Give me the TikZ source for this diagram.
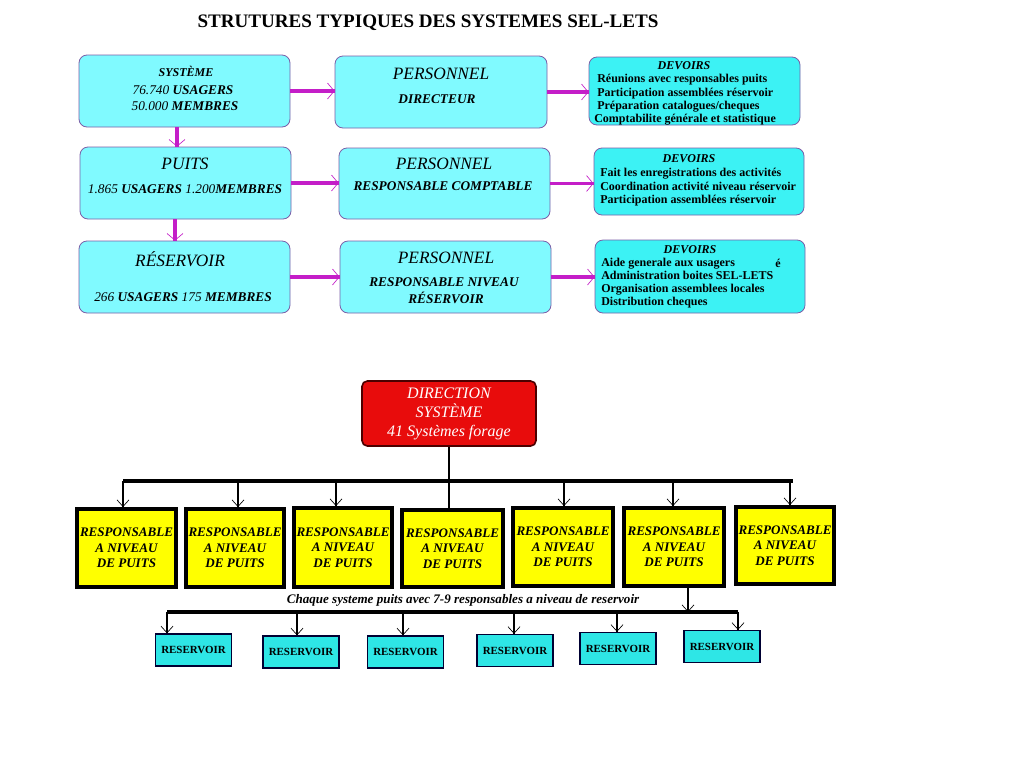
\documentclass[tikz,border=0pt]{standalone}
\usepackage{fontspec}
\setmainfont{Liberation Serif}
\usetikzlibrary{arrows.meta}
\definecolor{lcyan}{HTML}{80FAFF}
\definecolor{dcyan}{HTML}{3CF2F4}
\definecolor{rcyan}{HTML}{2EE6E6}
\definecolor{boxedge}{HTML}{7A5FA8}
\definecolor{mag}{HTML}{C41EC8}
\definecolor{dred}{HTML}{E80C0C}
\definecolor{yel}{HTML}{FFFF00}
\tikzset{
  cbox/.style={draw=boxedge, fill=lcyan, rounded corners=6pt, line width=0.6pt, inner sep=0pt},
  dbox/.style={cbox, fill=dcyan},
  marrow/.style={draw=mag, line width=0.5pt, -{Straight Barb[length=5pt,width=12pt]},
     preaction={draw=mag, line width=2.4pt, -}},
  tarrow/.style={draw=black, line width=0.5pt, -{Straight Barb[length=5pt,width=9pt]},
     preaction={draw=black, line width=2.2pt, -}},
  tline/.style={draw=black, line width=2.8pt},
  ybox/.style={draw=black, fill=yel, line width=3pt, align=center, inner sep=0pt,
     font=\fontsize{9.8}{11.6}\selectfont\bfseries\itshape},
  rbox/.style={draw=black!80!blue, fill=rcyan, line width=1pt, inner sep=0pt,
     minimum width=57pt, minimum height=24pt, font=\fontsize{8.2}{9}\selectfont\bfseries},
  big/.style={font=\fontsize{13}{15}\selectfont\itshape},
  mid/.style={font=\fontsize{10}{12}\selectfont\bfseries\itshape},
  dev/.style={font=\fontsize{9}{10}\selectfont\bfseries\itshape},
  dline/.style={anchor=base west, inner sep=0pt, font=\fontsize{9}{10}\selectfont\bfseries},
  num/.style={font=\fontsize{10}{12}\selectfont},
}
\begin{document}
\begin{tikzpicture}[x=0.75pt, y=-0.75pt]
\useasboundingbox[fill=white] (0,0) rectangle (1024,768);
% title
\node[font=\fontsize{14.3}{16}\selectfont\bfseries] (title) at (428,23) {STRUTURES TYPIQUES DES SYSTEMES SEL-LETS};
% top boxes
\node[cbox, minimum width=158.25pt, minimum height=54pt] (sys) at (184.5,91) {};
\node[cbox, minimum width=159pt, minimum height=54pt] (p1) at (441,92) {};
\node[dbox, minimum width=158.25pt, minimum height=51pt] (d1) at (694.5,91) {};
\node[cbox, minimum width=158.25pt, minimum height=54pt] (puits) at (185.5,183) {};
\node[cbox, minimum width=158.25pt, minimum height=53.25pt] (p2) at (444.5,183.5) {};
\node[dbox, minimum width=157.5pt, minimum height=50.25pt] (d2) at (699,181.5) {};
\node[cbox, minimum width=158.25pt, minimum height=54pt] (res) at (184.5,277) {};
\node[cbox, minimum width=158.25pt, minimum height=54pt] (p3) at (445.5,277) {};
\node[dbox, minimum width=157.5pt, minimum height=54.75pt] (d3) at (700,276.5) {};
% texts row 1
\node[font=\fontsize{9}{10}\selectfont\bfseries\itshape] (t1) at (186,71) {SYSTÈME};
\node[num] (t2) at (183,90) {\textit{76.740} \textbf{\textit{USAGERS}}};
\node[num] (t3) at (185,106) {\textit{50.000} \textbf{\textit{MEMBRES}}};
\node[big] (t4) at (441,74) {PERSONNEL};
\node[mid] (t5) at (437,99) {DIRECTEUR};
\node[dev] (t6) at (684,66) {DEVOIRS};
\node[dline] (t7) at (597,82) {Réunions avec responsables puits};
\node[dline] (t8) at (597,96) {Participation assemblées réservoir};
\node[dline] (t9) at (597,109) {Préparation catalogues/cheques};
\node[dline] (t10) at (594,122) {Comptabilite générale et statistique};
% texts row 2
\node[big] (t11) at (185,164) {PUITS};
\node[num] (t12) at (185,189) {\textit{1.865} \textbf{\textit{USAGERS}} \textit{1.200}\textbf{\textit{MEMBRES}}};
\node[big] (t13) at (444,164) {PERSONNEL};
\node[mid] (t14) at (443,186) {RESPONSABLE COMPTABLE};
\node[dev] (t15) at (689,159) {DEVOIRS};
\node[dline] (t16) at (600,176) {Fait les enregistrations des activités};
\node[dline] (t17) at (600,190) {Coordination activité niveau réservoir};
\node[dline] (t18) at (600,203) {Participation assemblées réservoir};
% texts row 3
\node[big] (t19) at (180,259) {RÉSERVOIR};
\node[num] (t20) at (183,297) {\textit{266} \textbf{\textit{USAGERS}} \textit{175} \textbf{\textit{MEMBRES}}};
\node[big] (t21) at (446,258) {PERSONNEL};
\node[mid] (t22) at (444,282) {RESPONSABLE NIVEAU};
\node[mid] (t23) at (446,298) {RÉSERVOIR};
\node[dev] (t24) at (690,250) {DEVOIRS};
\node[dline] (t25) at (601,266) {Aide generale aux usagers};
\node[dline] (t26) at (601,279) {Administration boites SEL-LETS};
\node[dline] (t27) at (601,292) {Organisation assemblees locales};
\node[dline] (t28) at (601,305) {Distribution cheques};
\node[dline] (t29) at (775,267) {é};
% magenta arrows
\draw[marrow] (sys.east) -- (sys.east -| p1.west);
\draw[marrow] (p1.east) -- (p1.east -| d1.west);
\draw[marrow] (puits.east) -- (puits.east -| p2.west);
\draw[marrow] (p2.east) -- (p2.east -| d2.west);
\draw[marrow] (res.east) -- (res.east -| p3.west);
\draw[marrow] (p3.east) -- (p3.east -| d3.west);
\coordinate (v1) at (177,0);
\coordinate (v2) at (175,0);
\draw[marrow] (sys.south -| v1) -- (puits.north -| v1);
\draw[marrow] (puits.south -| v2) -- (res.north -| v2);
% direction
\node[draw=black!70!red, fill=dred, rounded corners=4pt, line width=1.2pt, text=white,
  minimum width=130.5pt, minimum height=48.75pt, align=center,
  font=\fontsize{12}{14.2}\selectfont\itshape] (dir) at (449,413.5)
  {DIRECTION\\SYSTÈME\\41 Systèmes forage};
% yellow boxes
\node[ybox, minimum width=74.25pt, minimum height=58.5pt] (y1) at (126.5,548) {RESPONSABLE\\A NIVEAU\\DE PUITS};
\node[ybox, minimum width=73.5pt, minimum height=58.5pt] (y2) at (235,548) {RESPONSABLE\\A NIVEAU\\DE PUITS};
\node[ybox, minimum width=73.5pt, minimum height=59.25pt] (y3) at (343,547.5) {RESPONSABLE\\A NIVEAU\\DE PUITS};
\node[ybox, minimum width=75.75pt, minimum height=57.75pt] (y4) at (452.5,548.5) {RESPONSABLE\\A NIVEAU\\DE PUITS};
\node[ybox, minimum width=75pt, minimum height=58.5pt] (y5) at (563,547) {RESPONSABLE\\A NIVEAU\\DE PUITS};
\node[ybox, minimum width=75pt, minimum height=58.5pt] (y6) at (674,547) {RESPONSABLE\\A NIVEAU\\DE PUITS};
\node[ybox, minimum width=73.5pt, minimum height=57.75pt] (y7) at (785,545.5) {RESPONSABLE\\A NIVEAU\\DE PUITS};
% upper bar
\coordinate (bl) at (123,481);
\coordinate (br) at (793,481);
\draw[tline] (bl) -- (br);
\draw[line width=2.2pt] (dir.south) -- (dir.south |- y4.north);
\coordinate (a1) at (123,481);
\coordinate (a2) at (238,481);
\coordinate (a3) at (336,481);
\coordinate (a5) at (564,481);
\coordinate (a6) at (673,481);
\coordinate (a7) at (790,481);
\draw[tarrow] (a1) -- (a1 |- y1.north);
\draw[tarrow] (a2) -- (a2 |- y2.north);
\draw[tarrow] (a3) -- (a3 |- y3.north);
\draw[tarrow] (a5) -- (a5 |- y5.north);
\draw[tarrow] (a6) -- (a6 |- y6.north);
\draw[tarrow] (a7) -- (a7 |- y7.north);
% caption
\node[font=\fontsize{9.8}{11}\selectfont\bfseries\itshape] (cap) at (463,600) {Chaque systeme puits avec 7-9 responsables a niveau de reservoir};
% lower bar
\coordinate (d6) at (688,612);
\draw[tarrow] (d6 |- y6.south) -- (d6);
\coordinate (b1) at (167,612);
\coordinate (b2) at (297,612);
\coordinate (b3) at (403,612);
\coordinate (b4) at (514,612);
\coordinate (b5) at (617,612);
\coordinate (b6) at (738,612);
\draw[tline] (b1) -- (b6);
% reservoirs
\node[rbox] (r1) at (193.5,650) {RESERVOIR};
\node[rbox] (r2) at (301,652) {RESERVOIR};
\node[rbox] (r3) at (405.5,652) {RESERVOIR};
\node[rbox] (r4) at (515,650.5) {RESERVOIR};
\node[rbox] (r5) at (618,648.5) {RESERVOIR};
\node[rbox] (r6) at (722,646.5) {RESERVOIR};
\draw[tarrow] (b1) -- (b1 |- r1.north);
\draw[tarrow] (b2) -- (b2 |- r2.north);
\draw[tarrow] (b3) -- (b3 |- r3.north);
\draw[tarrow] (b4) -- (b4 |- r4.north);
\draw[tarrow] (b5) -- (b5 |- r5.north);
\draw[tarrow] (b6) -- (b6 |- r6.north);
\end{tikzpicture}
\end{document}
